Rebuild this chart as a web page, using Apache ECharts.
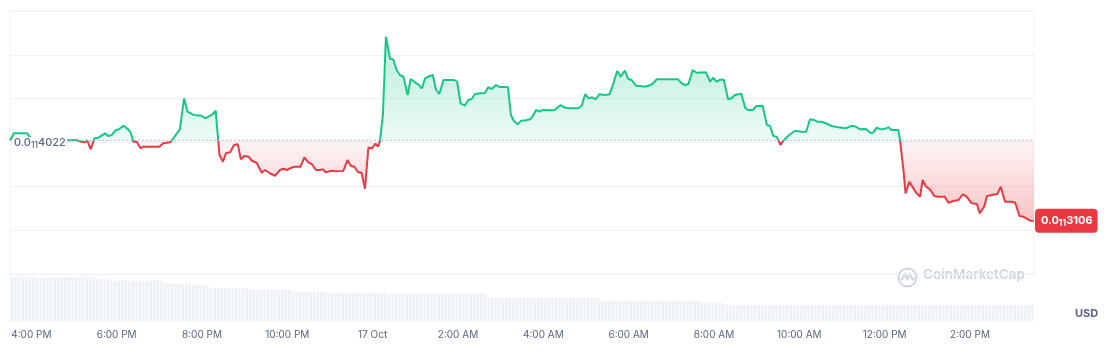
<!DOCTYPE html>
<html><head><meta charset="utf-8">
<script src="https://cdn.jsdelivr.net/npm/echarts@6/dist/echarts.min.js"></script>
<style>html,body{margin:0;padding:0;background:#fff;}#c{width:1112px;height:357px;}</style>
</head><body><div id="c"></div>
<script>
// time in hours since 16 Oct 00:00 (24 = 17 Oct 00:00)
const times = [15.50,15.59,15.90,16.02,16.32,16.55,16.86,17.06,17.18,17.26,
17.31,17.39,17.48,17.57,17.73,17.80,17.88,17.98,18.05,18.16,
18.27,18.33,18.39,18.47,18.56,18.62,18.74,19.00,19.09,19.25,
19.33,19.48,19.58,19.66,19.80,19.99,20.07,20.23,20.32,20.38,
20.41,20.49,20.56,20.66,20.75,20.84,20.91,20.99,21.09,21.17,
21.28,21.40,21.48,21.59,21.71,21.83,21.91,21.99,22.06,22.18,
22.31,22.40,22.49,22.57,22.67,22.77,22.83,22.90,23.04,23.12,
23.31,23.41,23.49,23.57,23.66,23.74,23.82,23.90,23.98,24.06,
24.13,24.17,24.24,24.31,24.41,24.48,24.56,24.64,24.72,24.82,
24.89,24.99,25.07,25.15,25.23,25.30,25.41,25.48,25.56,25.66,
25.91,25.98,26.06,26.16,26.24,26.32,26.40,26.52,26.63,26.71,
26.79,26.89,26.97,27.17,27.24,27.31,27.40,27.48,27.59,27.69,
27.75,27.83,27.91,27.99,28.24,28.31,28.41,28.49,28.59,28.82,
28.90,28.98,29.06,29.13,29.23,29.31,29.45,29.55,29.63,29.73,
29.81,29.91,29.99,30.07,30.17,30.27,30.38,30.46,30.55,30.66,
31.16,31.24,31.32,31.40,31.50,31.59,31.81,31.91,31.98,32.06,
32.14,32.23,32.33,32.41,32.49,32.64,32.73,32.80,32.91,32.99,
33.14,33.24,33.31,33.39,33.47,33.56,33.62,33.76,33.90,34.06,
34.16,34.25,34.34,34.42,34.52,34.66,34.76,34.91,35.09,35.23,
35.33,35.42,35.56,35.66,35.73,35.81,35.89,35.97,36.09,36.16,
36.32,36.36,36.44,36.49,36.58,36.67,36.75,36.83,36.89,36.97,
37.06,37.16,37.26,37.41,37.49,37.61,37.73,37.83,37.92,38.04,
38.16,38.23,38.33,38.40,38.51,38.64,38.72,38.82,38.98,39.06,
39.16,39.25,39.41,39.50];

// price in units of 1e-15 USD (0.0₁₁4022 -> 4022)
const prices = [4022,4105,4105,4028,4006,4017,4025,4028,4009,4002,
4028,3922,4048,4055,4105,4074,4085,4142,4150,4191,
4150,4112,4009,4009,3934,3952,3952,3952,3991,4002,
4048,4150,4504,4351,4314,4306,4276,4314,4363,4028,
3857,3781,3877,3888,3971,3979,3808,3846,3838,3792,
3769,3655,3686,3649,3621,3686,3701,3686,3706,3724,
3724,3831,3774,3755,3686,3686,3694,3660,3678,3671,
3675,3800,3732,3724,3660,3655,3473,3943,3931,3986,
3954,4017,4314,5207,4952,4949,4827,4770,4750,4542,
4724,4687,4664,4618,4732,4750,4770,4607,4553,4713,
4713,4693,4447,4420,4485,4496,4553,4561,4564,4633,
4610,4656,4633,4633,4314,4245,4207,4249,4253,4265,
4299,4371,4351,4371,4367,4390,4428,4401,4390,4390,
4420,4553,4504,4515,4493,4550,4542,4550,4656,4815,
4750,4819,4724,4713,4648,4644,4636,4648,4664,4721,
4721,4675,4656,4667,4827,4796,4800,4693,4739,4693,
4716,4716,4493,4504,4542,4556,4397,4371,4371,4416,
4420,4200,4191,4074,4066,3971,4017,4085,4134,4123,
4123,4265,4257,4237,4237,4211,4188,4173,4162,4191,
4180,4150,4154,4112,4112,4169,4154,4150,4173,4142,
4142,4028,3686,3420,3553,3477,3420,3382,3572,3496,
3466,3390,3382,3382,3313,3333,3344,3409,3382,3306,
3298,3192,3268,3390,3401,3412,3496,3325,3325,3313,
3162,3154,3108,3106];

// relative volume, one bar per 5 minutes (12 per row = 1 hour)
const volumes = [
94,94,94,94,94,94,94,91,91,91,91,91,
93,93,93,94,94,94,94,94,94,94,94,94,
89,89,89,89,86,86,86,86,86,86,86,86,
86,86,86,86,86,86,86,80,80,80,80,80,
80,80,80,77,77,77,77,77,70,70,70,70,
70,70,70,70,70,70,70,66,66,66,66,66,
66,66,66,66,66,66,66,62,62,62,62,62,
62,62,62,62,60,60,60,60,60,60,60,60,
60,60,60,60,60,60,60,60,60,61,58,58,
58,58,58,58,58,58,58,58,58,58,58,58,
58,58,58,58,58,58,58,58,58,58,58,58,
58,58,49,49,49,49,49,49,49,49,49,49,
49,49,49,49,49,49,49,49,49,49,49,49,
49,49,49,49,49,49,49,49,49,49,43,43,
43,43,43,43,43,43,43,43,43,43,43,43,
43,43,43,43,43,43,43,43,43,43,43,43,
43,43,38,38,38,38,38,38,38,34,34,34,
34,34,34,34,34,34,34,34,34,34,34,34,
34,34,34,34,34,34,34,34,34,34,34,34,
34,34,34,34,34,34,34,34,34,34,34,34,
34,34,34,34,34,35,35,35,34,34,34,34,
34,34,34,34,34,34,34,34,34,34,34,34,
34,34,34,34,34,34,34,34,34,34,34,34,
34,34,34,34,34,34,34,34,34,34,34,34];

const tickHours = [16,18,20,22,24,26,28,30,32,34,36,38];
const tickLabels = ['4:00 PM','6:00 PM','8:00 PM','10:00 PM','17 Oct','2:00 AM','4:00 AM','6:00 AM','8:00 AM','10:00 AM','12:00 PM','2:00 PM'];
const startHour = 15.5, endHour = 39.5;
const baseValue = 4022;
const lastValue = prices[prices.length - 1];
const zeroCount = '11';

const green = '#16c784', red = '#ea3943';
const maxP = Math.max(...prices), minP = Math.min(...prices, baseValue);
const frac = (maxP - baseValue) / (maxP - minP);

function fmt(v) { return '{p|0.0}{s|' + zeroCount + '}{a|' + v + '}'; }

const priceData = times.map((t, i) => [t, prices[i]]);
const volData = volumes.map((v, i) => [startHour + (i + 0.5) / 12, v]);

const lineGrad = new echarts.graphic.LinearGradient(0, 0, 0, 1, [
  { offset: 0, color: green }, { offset: frac, color: green },
  { offset: frac, color: red }, { offset: 1, color: red }
]);
const areaGrad = new echarts.graphic.LinearGradient(0, 0, 0, 1, [
  { offset: 0, color: 'rgba(22,199,132,0.30)' },
  { offset: frac, color: 'rgba(22,199,132,0.08)' },
  { offset: frac, color: 'rgba(234,57,67,0.05)' },
  { offset: 1, color: 'rgba(234,57,67,0.30)' }
]);

const leftText = { fontSize: 11, color: '#58667e', fontFamily: 'Inter', fontWeight: 500, lineHeight: 12, backgroundColor: '#fff' };
const rightText = { fontSize: 11, color: '#fff', fontFamily: 'Inter', fontWeight: 'bold', lineHeight: 12 };

const chart = echarts.init(document.getElementById('c'));
chart.setOption({
  animation: false,
  textStyle: { fontFamily: 'Inter' },
  grid: [
    { left: 10, right: 78, top: 11, height: 263, show: true, borderColor: '#eff2f5', borderWidth: 1, backgroundColor: 'transparent' },
    { left: 10, right: 78, top: 274, height: 47 }
  ],
  xAxis: [
    { type: 'value', gridIndex: 0, min: startHour, max: endHour, show: false },
    { type: 'value', gridIndex: 1, min: startHour, max: endHour,
      axisLine: { show: false }, axisTick: { show: false }, splitLine: { show: false },
      axisLabel: { customValues: tickHours, formatter: v => tickLabels[tickHours.indexOf(v)],
        color: '#58667e', fontSize: 10, margin: 9, fontFamily: 'Inter' } }
  ],
  yAxis: [
    { type: 'value', gridIndex: 0, min: 2500, max: 5500, interval: 500,
      axisLabel: { show: false }, axisLine: { show: false }, axisTick: { show: false },
      splitLine: { lineStyle: { color: '#eff2f5', width: 1 } } },
    { type: 'value', gridIndex: 0, min: 2500, max: 5500, position: 'left', z: 10,
      splitLine: { show: false }, axisLine: { show: false }, axisTick: { show: false },
      axisLabel: { inside: true, margin: 3, customValues: [baseValue], formatter: fmt,
        padding: [4, 0, 0, 0],
        rich: {
          p: Object.assign({}, leftText, { padding: [0, 0, 0, 1] }),
          a: Object.assign({}, leftText, { padding: [0, 1, 0, 0] }),
          s: { fontSize: 8.5, color: '#58667e', fontFamily: 'Inter', fontWeight: 500, lineHeight: 9,
               backgroundColor: '#fff', padding: [5, 0, 0, 0] }
        } } },
    { type: 'value', gridIndex: 0, min: 2500, max: 5500, position: 'right', z: 10,
      splitLine: { show: false }, axisLine: { show: false }, axisTick: { show: false },
      axisLabel: { margin: 1, customValues: [lastValue], formatter: fmt,
        backgroundColor: red, borderRadius: 4, padding: [6, 5, 6, 6],
        rich: {
          p: rightText,
          a: rightText,
          s: { fontSize: 8.5, color: '#fff', fontFamily: 'Inter', fontWeight: 'bold', lineHeight: 9, padding: [5, 0, 0, 0] }
        } } },
    { type: 'value', gridIndex: 1, min: 0, max: 100, show: false }
  ],
  series: [
    { type: 'line', xAxisIndex: 0, yAxisIndex: 0, data: priceData, symbol: 'none', showSymbol: false,
      lineStyle: { width: 2, color: lineGrad }, itemStyle: { color: green }, z: 3,
      areaStyle: { origin: baseValue, opacity: 1, color: areaGrad },
      markLine: { silent: true, symbol: 'none', label: { show: false },
        lineStyle: { type: [1.5, 2.5], color: '#b0b6c0', width: 1 },
        data: [{ yAxis: baseValue }] }
    },
    { type: 'bar', xAxisIndex: 1, yAxisIndex: 3, data: volData, barWidth: 2.7,
      itemStyle: { color: '#edf0f4' }, z: 1 }
  ],
  graphic: [
    { type: 'group', left: 896, top: 266, silent: true, children: [
      { type: 'circle', shape: { cx: 10, cy: 10, r: 9 }, style: { fill: 'none', stroke: '#cdd4e0', lineWidth: 2 } },
      { type: 'polyline', shape: { points: [[4, 13], [7.5, 6.5], [10, 12], [12.5, 6.5], [15, 12], [17, 10]] },
        style: { fill: 'none', stroke: '#cdd4e0', lineWidth: 1.8 } }
    ] },
    { type: 'text', left: 923, top: 268, silent: true,
      style: { text: 'CoinMarketCap', font: '600 13.5px Inter', fill: '#cdd4e0' } },
    { type: 'text', left: 1075, top: 308, silent: true,
      style: { text: 'USD', font: 'bold 11px Inter', fill: '#58667e' } }
  ]
});
</script>
</body></html>
